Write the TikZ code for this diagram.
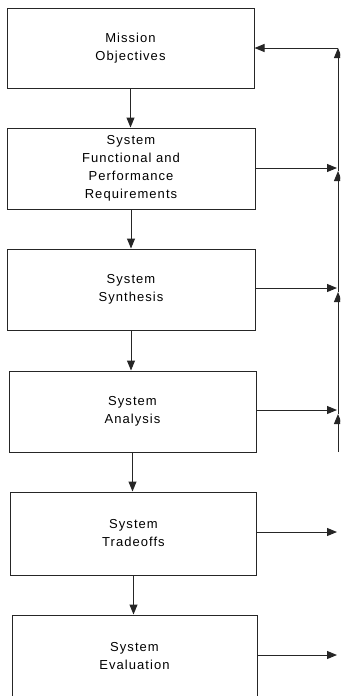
\documentclass[tikz,border=0pt]{standalone}
\usepackage{fontspec}
\setmainfont{Liberation Sans}[LetterSpace=8]
\usetikzlibrary{arrows.meta}

\begin{document}
\begin{tikzpicture}[x=1pt,y=-1pt,
  stagebox/.style={draw=black!85, line width=1pt, align=center,
    inner sep=0pt, font=\fontsize{13}{18}\selectfont, text=black},
  flow/.style={draw=black!85, line width=1pt,
    -{Triangle[length=10pt,width=8pt]}}]
\useasboundingbox (0,0) rectangle (340,696);
\clip (0,0) rectangle (340,696);

% process stages
\node[stagebox, minimum width=247pt, minimum height=80pt] (b1) at (130.5,48)
  {Mission\\Objectives};
\node[stagebox, minimum width=248pt, minimum height=81pt] (b2) at (131,168.5)
  {System\\Functional and\\Performance\\Requirements};
\node[stagebox, minimum width=248pt, minimum height=81pt] (b3) at (131,289.5)
  {System\\Synthesis};
\node[stagebox, minimum width=247pt, minimum height=81pt] (b4) at (132.5,411.5)
  {System\\Analysis};
\node[stagebox, minimum width=246pt, minimum height=83pt] (b5) at (133.5,533.5)
  {System\\Tradeoffs};
\node[stagebox, minimum width=245pt, minimum height=82pt] (b6) at (134.5,656)
  {System\\Evaluation};

% downward flow
\draw[flow] (b1.south) -- (b1.south |- b2.north);
\draw[flow] (b2.south) -- (b2.south |- b3.north);
\draw[flow] (b3.south) -- (b3.south |- b4.north);
\draw[flow] (b4.south) -- (b4.south |- b5.north);
\draw[flow] (b5.south) -- (b5.south |- b6.north);

% feedback bus on the right
\coordinate (r1) at (338,48);
\coordinate (r2) at (337,168);
\coordinate (r3) at (337,288);
\coordinate (r4) at (337,410);
\coordinate (r5) at (337,532);
\coordinate (r6) at (337,655);
\coordinate (v2) at (338,171);
\coordinate (v3) at (338,292);
\coordinate (v4) at (338,414);
\coordinate (vend) at (338,452);

\draw[flow] (r1) -- (b1.east);
\draw[flow] (b2.east |- r2) -- (r2);
\draw[flow] (b3.east |- r3) -- (r3);
\draw[flow] (b4.east |- r4) -- (r4);
\draw[flow] (b5.east |- r5) -- (r5);
\draw[flow] (b6.east |- r6) -- (r6);

\draw[flow] (v2) -- (r1);
\draw[flow] (v3) -- (v2);
\draw[flow] (v4) -- (v3);
\draw[flow] (vend) -- (v4);
\end{tikzpicture}
\end{document}
